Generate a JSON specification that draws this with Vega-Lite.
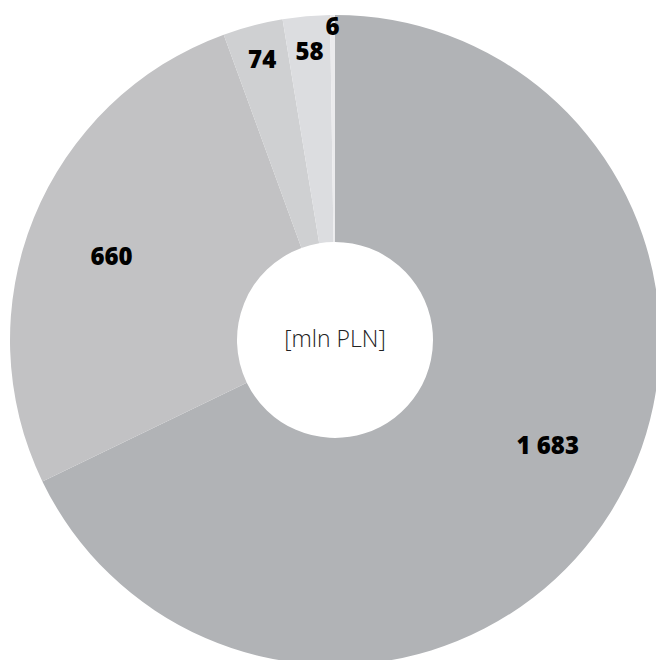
{
  "$schema": "https://vega.github.io/schema/vega-lite/v6.json",
  "width": 670,
  "height": 680,
  "autosize": "none",
  "padding": 0,
  "background": "white",
  "config": {
    "view": {"stroke": null},
    "locale": {"number": {"decimal": ",", "thousands": " ", "grouping": [3], "currency": ["", " zł"]}},
    "font": "Open Sans"
  },
  "data": {
    "values": [
      {"idx": 1, "segment": "S1", "value": 1683},
      {"idx": 2, "segment": "S2", "value": 660},
      {"idx": 3, "segment": "S3", "value": 74},
      {"idx": 4, "segment": "S4", "value": 58},
      {"idx": 5, "segment": "S5", "value": 6}
    ]
  },
  "encoding": {
    "theta": {"field": "value", "type": "quantitative", "stack": true},
    "order": {"field": "idx", "type": "quantitative"},
    "color": {
      "field": "segment",
      "type": "nominal",
      "scale": {"domain": ["S1", "S2", "S3", "S4", "S5"], "range": ["#b1b3b6", "#c2c2c4", "#cfd0d2", "#dcdde0", "#ebebed"]},
      "legend": null
    }
  },
  "layer": [
    {"mark": {"type": "arc", "outerRadius": 325, "innerRadius": 98}},
    {
      "mark": {"type": "text", "fontSize": 24, "fontWeight": 800, "fill": "#000000",
        "radius": {"expr": "datum.value < 10 ? 312 : (datum.value < 100 ? 288 : 238)"},
        "thetaOffset": {"expr": "datum.value > 1000 ? -0.095 : (datum.value > 100 ? -0.035 : 0)"}},
      "encoding": {
        "text": {"field": "value", "type": "quantitative", "format": ",d"},
        "color": null
      }
    },
    {
      "data": {"values": [{"label": "[mln PLN]"}]},
      "mark": {"type": "text", "fontSize": 23, "fontWeight": 300, "fill": "#222222"},
      "encoding": {"text": {"field": "label", "type": "nominal"}, "theta": null, "order": null, "color": null}
    }
  ]
}
